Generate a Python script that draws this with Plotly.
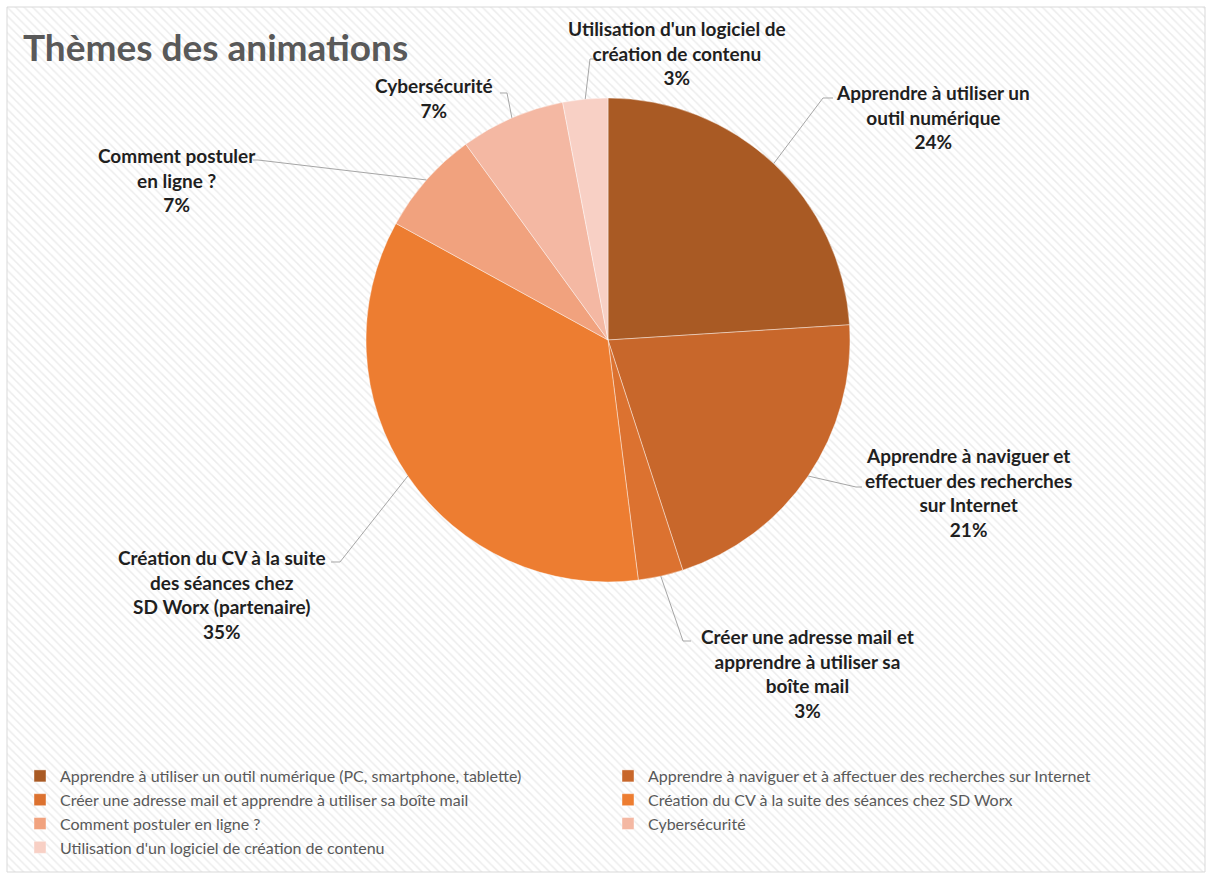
import numpy as np
import plotly.graph_objects as go

# --- data -------------------------------------------------------------
legend_names = [
    "Apprendre à utiliser un outil numérique (PC, smartphone, tablette)",
    "Apprendre à naviguer et à affectuer des recherches sur Internet",
    "Créer une adresse mail et apprendre à utiliser sa boîte mail",
    "Création du CV à la suite des séances chez SD Worx",
    "Comment postuler en ligne ?",
    "Cybersécurité",
    "Utilisation d'un logiciel de création de contenu",
]
label_names = [
    "Apprendre à utiliser un<br>outil numérique",
    "Apprendre à naviguer et<br>effectuer des recherches<br>sur Internet",
    "Créer une adresse mail et<br>apprendre à utiliser sa<br>boîte mail",
    "Création du CV à la suite<br>des séances chez<br>SD Worx (partenaire)",
    "Comment postuler<br>en ligne ?",
    "Cybersécurité",
    "Utilisation d'un logiciel de<br>création de contenu",
]
percentages = [24, 21, 3, 35, 7, 7, 3]

# --- styling ------------------------------------------------------------
W, H = 1212, 879
colors = ["#A95A24", "#C8672B", "#DC7230", "#ED7D31", "#F1A27E", "#F4B8A3", "#F8D0C5"]
CX, CY, R = 608, 340, 242          # pie centre and radius, pixels

# label block centre, elbow and end of the leader line (pixels)
label_layout = [
    dict(x=933, y=117, elbow=(823, 98), end=(833, 98)),
    dict(x=968, y=492, elbow=(856, 487), end=(862, 487)),
    dict(x=807, y=673, elbow=(683, 641), end=(691, 641)),
    dict(x=222, y=594, elbow=(340, 562), end=(331, 562)),
    dict(x=177, y=180, elbow=(258, 160), end=(253, 160)),
    dict(x=434, y=98, elbow=(507, 93), end=(500, 93)),
    dict(x=677, y=53, elbow=(590, 59), end=(597, 59)),
]


def px(x):
    return x / W


def py(y):
    return 1 - y / H


fig = go.Figure()

# hatched chart-area background
bx0, by0, bx1, by1 = 7, 7, 1205, 872
fig.add_trace(go.Scatter(
    x=[px(bx0), px(bx1), px(bx1), px(bx0), px(bx0)],
    y=[py(by0), py(by0), py(by1), py(by1), py(by0)],
    mode="lines", fill="toself",
    line=dict(color="#D9D9D9", width=1),
    fillcolor="white",
    fillpattern=dict(shape="\\", fgcolor="#DADADA", bgcolor="white", size=6, solidity=0.25),
    hoverinfo="skip", showlegend=False,
))

fig.add_trace(go.Pie(
    labels=legend_names,
    values=percentages,
    sort=False,
    direction="clockwise",
    rotation=0,
    textinfo="none",
    marker=dict(colors=colors, line=dict(color="rgba(255,255,255,0.6)", width=0.7)),
    domain=dict(x=[px(CX - R), px(CX + R)], y=[py(CY + R), py(CY - R)]),
    hovertemplate="%{label}: %{value}%<extra></extra>",
))

# outside labels with leader lines from the middle of each slice
total = float(sum(percentages))
cum = np.cumsum([0] + percentages)
shapes = []
annotations = []
for i, (txt, val) in enumerate(zip(label_names, percentages)):
    mid = (cum[i] + val / 2) / total * 2 * np.pi
    ex, ey = CX + R * np.sin(mid), CY - R * np.cos(mid)
    lay = label_layout[i]
    pts = [(ex, ey), lay["elbow"], lay["end"]]
    path = "M " + " L ".join(f"{px(a):.5f},{py(b):.5f}" for a, b in pts)
    shapes.append(dict(type="path", path=path, xref="paper", yref="paper",
                       line=dict(color="#A6A6A6", width=1)))
    annotations.append(dict(
        x=px(lay["x"]), y=py(lay["y"]), xref="paper", yref="paper",
        text=f"<b>{txt}<br>{val}%</b>", showarrow=False, align="center",
        xanchor="center", yanchor="middle",
        font=dict(family="Lato", size=19, color="#1F1F1F"),
    ))

annotations.append(dict(
    x=px(21), y=py(46), xref="paper", yref="paper", xanchor="left", yanchor="middle",
    text="<b>Thèmes des animations</b>", showarrow=False,
    font=dict(family="Lato", size=37, color="#595959"),
))

fig.update_layout(
    width=W, height=H,
    margin=dict(l=0, r=0, t=0, b=0),
    paper_bgcolor="white", plot_bgcolor="white",
    xaxis=dict(range=[0, 1], domain=[0, 1], visible=False, fixedrange=True),
    yaxis=dict(range=[0, 1], domain=[0, 1], visible=False, fixedrange=True),
    shapes=shapes,
    annotations=annotations,
    showlegend=True,
    legend=dict(
        orientation="h", x=px(20), xanchor="left", y=py(759), yanchor="top",
        entrywidth=543, entrywidthmode="pixels",
        font=dict(family="Lato", size=16, color="#595959"),
        bgcolor="rgba(0,0,0,0)", traceorder="normal",
    ),
)

fig.write_html("out.html")
